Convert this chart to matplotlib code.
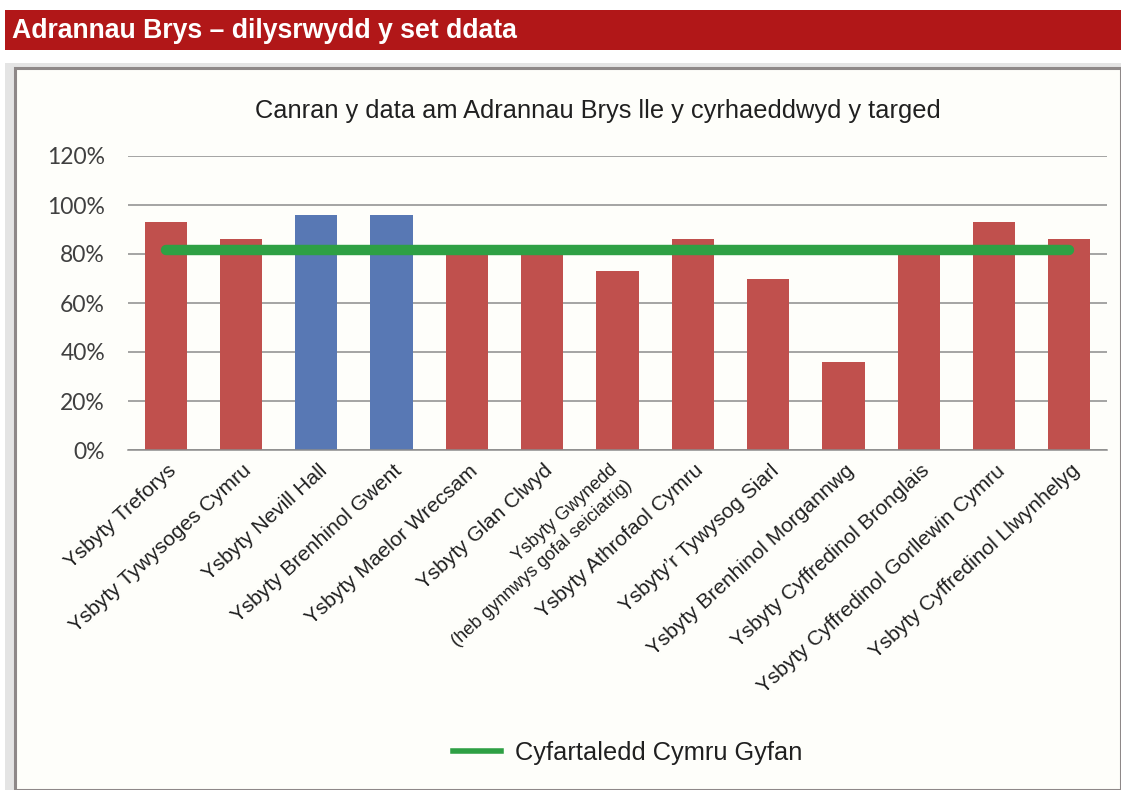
import matplotlib
matplotlib.use("Agg")
import matplotlib.pyplot as plt
import matplotlib.transforms as mtransforms
from matplotlib.patches import Rectangle
from matplotlib.lines import Line2D

plt.rcParams['font.family'] = ['Liberation Sans', 'DejaVu Sans']

# data
hospitals = [
    "Ysbyty Treforys",
    "Ysbyty Tywysoges Cymru",
    "Ysbyty Nevill Hall",
    "Ysbyty Brenhinol Gwent",
    "Ysbyty Maelor Wrecsam",
    "Ysbyty Glan Clwyd",
    "Ysbyty Gwynedd\n(heb gynnwys gofal seiciatrig)",
    "Ysbyty Athrofaol Cymru",
    "Ysbyty\u2019r Tywysog Siarl",
    "Ysbyty Brenhinol Morgannwg",
    "Ysbyty Cyffredinol Bronglais",
    "Ysbyty Cyffredinol Gorllewin Cymru",
    "Ysbyty Cyffredinol Llwynhelyg",
]
pct_met = [0.93, 0.86, 0.96, 0.96, 0.80, 0.80, 0.73, 0.86, 0.70, 0.36, 0.80, 0.93, 0.86]
highlight = [False, False, True, True, False, False, False, False, False, False, False, False, False]
wales_avg = 0.815
yticks = [0, 0.2, 0.4, 0.6, 0.8, 1.0, 1.2]
ytick_labels = ["0%", "20%", "40%", "60%", "80%", "100%", "120%"]

W, H = 1121, 790
fig = plt.figure(figsize=(W / 100, H / 100), dpi=100)
fig.patch.set_facecolor('white')

def px(x0, y0, w, h):
    # rectangle in pixel units from top-left, returned in figure fractions
    return (x0 / W, 1 - (y0 + h) / H), w / W, h / H

# red header banner
xy, w, h = px(5, 10, 1116, 40)
fig.add_artist(Rectangle(xy, w, h, transform=fig.transFigure, facecolor='#B11718',
                         edgecolor='none', zorder=-10))
fig.text(12 / W, 1 - 31 / H, "Adrannau Brys \u2013 dilysrwydd y set ddata", color='white',
         fontsize=19.2, fontweight='bold', va='center', ha='left')

# grey frame and chart panel
xy, w, h = px(5, 63, 1116, 727)
fig.add_artist(Rectangle(xy, w, h, transform=fig.transFigure, facecolor='#E4E4E4',
                         edgecolor='none', zorder=-10))
xy, w, h = px(15, 68, 1106, 722)
fig.add_artist(Rectangle(xy, w, h, transform=fig.transFigure, facecolor='#FEFEFA',
                         edgecolor='#8E8888', linewidth=2.2, zorder=-9))

ax = fig.add_axes([128 / W, 1 - 450 / H, (1107 - 128) / W, (450 - 156) / H])
ax.set_facecolor('none')

x = list(range(len(hospitals)))
colors = ['#5878B4' if hl else '#C0504D' for hl in highlight]
ax.bar(x, pct_met, width=0.56, color=colors, zorder=2)
ax.plot([x[0], x[-1]], [wales_avg, wales_avg], color='#2EA044', linewidth=7.5,
        solid_capstyle='round', zorder=3)

ax.set_xlim(-0.5, len(hospitals) - 0.5)
ax.set_ylim(0, 1.2)
ax.set_yticks(yticks)
ax.set_yticklabels(ytick_labels, fontsize=16.5, color='#404040', family=['Lato', 'DejaVu Sans'])
ax.tick_params(axis='y', length=0, pad=16.5)
ax.grid(axis='y', color='#8C8C8C', linewidth=1.1, zorder=0)
for s in ['top', 'right', 'left']:
    ax.spines[s].set_visible(False)
ax.spines['bottom'].set_color('#8C8C8C')
ax.spines['bottom'].set_linewidth(1.1)

ax.set_xticks(x)
ax.set_xticklabels([])
ax.tick_params(axis='x', length=0)
for i, name in enumerate(hospitals):
    two_line = '\n' in name
    dx, dy = (5, -25) if two_line else (8, -18)
    offset = mtransforms.ScaledTranslation(dx / 100, dy / 100, fig.dpi_scale_trans)
    trans = ax.get_xaxis_transform() + offset
    ax.text(i, 0, name, transform=trans, rotation=42.5, rotation_mode='anchor',
            ha='right', va='center', multialignment='right',
            fontsize=13 if two_line else 15, color='#202020', linespacing=1.3)

fig.text(598 / W, 1 - 111 / H, "Canran y data am Adrannau Brys lle y cyrhaeddwyd y targed",
         fontsize=18.3, ha='center', va='center', color='#202020')

handle = Line2D([], [], color='#2EA044', linewidth=4)
fig.legend([handle], ['Cyfartaledd Cymru Gyfan'], loc='center',
           bbox_to_anchor=(628 / W, 1 - 753 / H), frameon=False, fontsize=18.3,
           handlelength=1.9, handletextpad=0.55, labelcolor='#202020')

fig.savefig('out.png', dpi=100, facecolor=fig.get_facecolor())
